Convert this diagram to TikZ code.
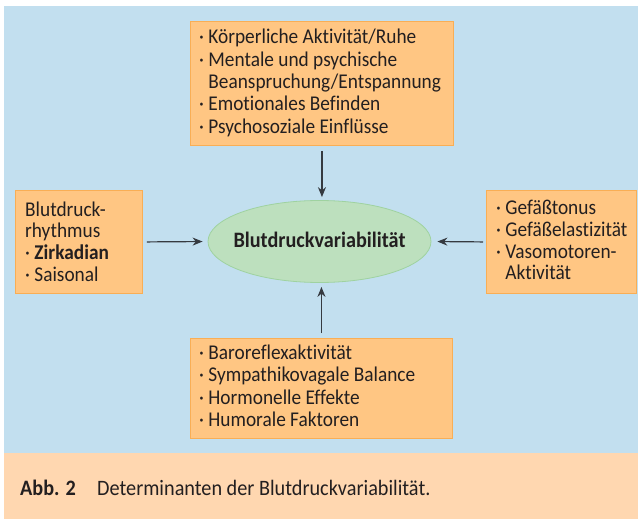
\documentclass[tikz,border=0pt]{standalone}
\usepackage{fontspec}
\setmainfont[FakeStretch=0.92,Ligatures=NoCommon]{Carlito}
\usetikzlibrary{shapes.geometric,arrows.meta}
\definecolor{bgblue}{HTML}{C2DFEF}
\definecolor{capbg}{HTML}{FFD7B0}
\definecolor{boxfill}{HTML}{FFC683}
\definecolor{boxborder}{HTML}{F9AE55}
\definecolor{ellfill}{HTML}{BDE0BE}
\definecolor{ellborder}{HTML}{9FD2A0}
\definecolor{arrowgray}{HTML}{353A40}
\definecolor{textdark}{HTML}{231F20}
\newcommand{\stacklines}[2]{\vtop{\baselineskip=#1\lineskiplimit=-100pt\lineskip=0pt #2}}
\tikzset{
  obox/.style={draw=boxborder, fill=boxfill, line width=0.9pt, inner sep=0pt, anchor=north west},
  txt/.style={inner sep=0pt, anchor=base west, text=textdark, font=\fontsize{21}{22}\selectfont},
  captxt/.style={inner sep=0pt, anchor=base west, text=textdark, font=\fontsize{22}{24}\selectfont},
  arr/.style={-{Stealth[length=10pt,width=8pt]}, draw=arrowgray, line width=1.2pt},
  ellnode/.style={ellipse, draw=ellborder, fill=ellfill, line width=0.8pt, inner sep=0pt,
    minimum width=223pt, minimum height=82pt},
  elltxt/.style={inner sep=0pt, anchor=base, text=textdark, font=\fontsize{22}{24}\selectfont\bfseries},
}
\begin{document}
\begin{tikzpicture}[x=1pt,y=-1pt]
\useasboundingbox (0,0) rectangle (638,519);
\fill[bgblue] (4,6.5) rectangle (638,453);
\fill[capbg] (4,453) rectangle (638,519);

% boxes
\node[obox, minimum width=263pt, minimum height=124pt] (top) at (190,21) {};
\node[obox, minimum width=127pt, minimum height=103pt] (left) at (15,190) {};
\node[obox, minimum width=150pt, minimum height=103pt] (right) at (486,190) {};
\node[obox, minimum width=262pt, minimum height=100pt] (bottom) at (190,338) {};
\node[ellnode] (ell) at (319.5,241.5) {};
\node[elltxt] (elltext) at (319.5,247.5) {Blutdruckvariabilität};

% texts
\node[txt] (toptext) at (199,44) {\stacklines{22.3pt}{%
\hbox{·\ Körperliche Aktivität/Ruhe}
\hbox{·\ Mentale und psychische}
\hbox{\phantom{·\ }Beanspruchung/Entspannung}
\hbox{·\ Emotionales Befinden}
\hbox{·\ Psychosoziale Einflüsse}}};
\node[txt] (lefttext) at (25,216) {\stacklines{21.7pt}{%
\hbox{Blutdruck-}
\hbox{rhythmus}
\hbox{·\ \textbf{Zirkadian}}
\hbox{·\ Saisonal}}};
\node[txt] (righttext) at (496,214) {\stacklines{22pt}{%
\hbox{·\ Gefäßtonus}
\hbox{·\ Gefäßelastizität}
\hbox{·\ Vasomotoren-}
\hbox{\phantom{·\ }Aktivität}}};
\node[txt] (bottomtext) at (199,359) {\stacklines{22.6pt}{%
\hbox{·\ Baroreflexaktivität}
\hbox{·\ Sympathikovagale Balance}
\hbox{·\ Hormonelle Effekte}
\hbox{·\ Humorale Faktoren}}};

% caption
\node[captxt, font=\fontsize{22}{24}\selectfont\bfseries] (capnum) at (20,495) {Abb. 2};
\node[captxt] (captext) at (97,495) {Determinanten der Blutdruckvariabilität.};

% arrows
\draw[arr, shorten <=5pt, shorten >=3pt] (top.south) -- (top.south |- ell.north);
\draw[arr, shorten <=5pt, shorten >=4pt] (bottom.north) -- (bottom.north |- ell.south);
\draw[arr, shorten <=4pt, shorten >=5pt] (left.east) -- (ell.west);
\draw[arr, shorten <=3pt, shorten >=6pt] (right.west) -- (ell.east);
\end{tikzpicture}
\end{document}
